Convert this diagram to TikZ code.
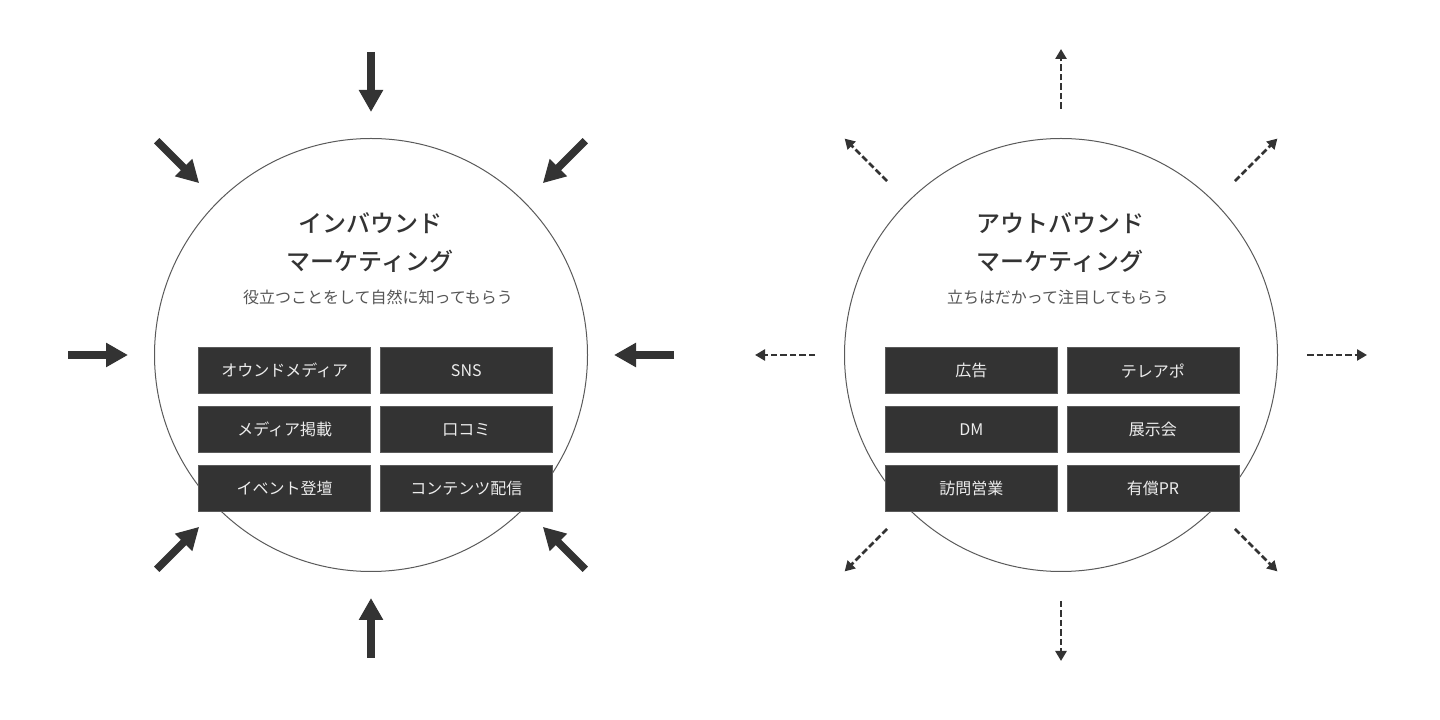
\documentclass[tikz,border=0pt]{standalone}
\usepackage{fontspec}
\setmainfont{Noto Sans CJK JP}
\newfontfamily\headfont{Noto Sans CJK JP Medium}
\usetikzlibrary{arrows.meta}

\definecolor{ink}{HTML}{333333}
\definecolor{rim}{HTML}{5A5A5A}
\definecolor{subtext}{HTML}{555555}
\definecolor{boxtext}{HTML}{EDEDED}

\tikzset{
  pulls/.style={ink, line width=7.5pt, -{Triangle[width=23pt,length=22pt]}},
  pushes/.style={ink, line width=2.7pt, dash pattern=on 6.5pt off 3pt,
    -{Triangle[width=11pt,length=10pt]}},
  ring/.style={circle, draw=rim, line width=1pt, minimum size=433pt, inner sep=0pt},
  heading/.style={ink, font=\fontsize{24}{38}\headfont, align=center},
  tagline/.style={subtext, font=\fontsize{16}{18}\selectfont},
  channel/.style={fill=ink, draw=rim, line width=0.8pt, text=boxtext,
    minimum width=172pt, minimum height=46pt, inner sep=0pt,
    font=\fontsize{16}{18}\selectfont},
}

\begin{document}
\begin{tikzpicture}[x=1pt,y=1pt]
        \useasboundingbox (0,0) rectangle (1440,720);
        % inbound
        \node[ring] (inring) at (371,365) {};
        \node[heading] (inhead) at (370,477) {インバウンド\\マーケティング};
        \node[tagline] (intag) at (378,423) {役立つことをして自然に知ってもらう};
        \foreach \c/\r/\txt in {%
          0/0/オウンドメディア, 1/0/SNS,
          0/1/メディア掲載, 1/1/口コミ,
          0/2/イベント登壇, 1/2/コンテンツ配信} {
            \node[channel] (in\c\r) at (284.7+181.6*\c,349.3-58.7*\r) {\txt};
        }
        \foreach \a in {0,45,...,315} {
          \path (inring.center) ++(\a:303) coordinate (intail\a);
          \path (inring.center) ++(\a:243) coordinate (intip\a);
          \draw[pulls] (intail\a) -- (intip\a);
        }
        % outbound
        \node[ring] (outring) at (1061,365) {};
        \node[heading] (outhead) at (1060,477) {アウトバウンド\\マーケティング};
        \node[tagline] (outtag) at (1058,423) {立ちはだかって注目してもらう};
        \foreach \c/\r/\txt in {%
          0/0/広告, 1/0/テレアポ,
          0/1/DM, 1/1/展示会,
          0/2/訪問営業, 1/2/有償PR} {
            \node[channel] (out\c\r) at (971.3+181.6*\c,349.3-58.7*\r) {\txt};
        }
        \foreach \a in {0,45,...,315} {
          \path (outring.center) ++(\a:246) coordinate (outtail\a);
          \path (outring.center) ++(\a:306) coordinate (outtip\a);
          \draw[pushes] (outtail\a) -- (outtip\a);
        }
\end{tikzpicture}
\end{document}
